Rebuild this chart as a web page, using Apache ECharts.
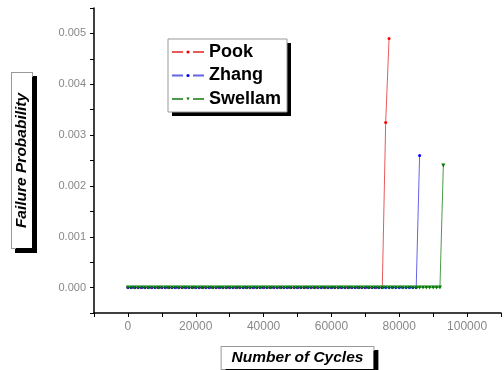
<!doctype html>
<html>
<head>
  <meta charset="utf-8">
  <title>Failure Probability</title>
  <script src="https://cdn.jsdelivr.net/npm/echarts@6/dist/echarts.min.js"></script>
  <style>
    html, body { margin: 0; padding: 0; background: #fff; }
    #main { width: 504px; height: 370px; }
  </style>
</head>
<body>
<div id="main"></div>
<script>
  // cycles sampled every 1000
  var cycles = [
    0, 1000, 2000, 3000, 4000, 5000, 6000, 7000, 8000, 9000,
    10000, 11000, 12000, 13000, 14000, 15000, 16000, 17000, 18000, 19000,
    20000, 21000, 22000, 23000, 24000, 25000, 26000, 27000, 28000, 29000,
    30000, 31000, 32000, 33000, 34000, 35000, 36000, 37000, 38000, 39000,
    40000, 41000, 42000, 43000, 44000, 45000, 46000, 47000, 48000, 49000,
    50000, 51000, 52000, 53000, 54000, 55000, 56000, 57000, 58000, 59000,
    60000, 61000, 62000, 63000, 64000, 65000, 66000, 67000, 68000, 69000,
    70000, 71000, 72000, 73000, 74000, 75000, 76000, 77000, 78000, 79000,
    80000, 81000, 82000, 83000, 84000, 85000, 86000, 87000, 88000, 89000,
    90000, 91000, 92000, 93000
  ];
  var pook = [
    0,0,0,0,0,0,0,0,0,0,0,0,0,0,0,0,0,0,0,0,
    0,0,0,0,0,0,0,0,0,0,0,0,0,0,0,0,0,0,0,0,
    0,0,0,0,0,0,0,0,0,0,0,0,0,0,0,0,0,0,0,0,
    0,0,0,0,0,0,0,0,0,0,0,0,0,0,0,0,
    0.00325, 0.0049
  ];
  var zhang = [
    0,0,0,0,0,0,0,0,0,0,0,0,0,0,0,0,0,0,0,0,
    0,0,0,0,0,0,0,0,0,0,0,0,0,0,0,0,0,0,0,0,
    0,0,0,0,0,0,0,0,0,0,0,0,0,0,0,0,0,0,0,0,
    0,0,0,0,0,0,0,0,0,0,0,0,0,0,0,0,0,0,0,0,
    0,0,0,0,0,0,
    0.0026
  ];
  var swellam = [
    0,0,0,0,0,0,0,0,0,0,0,0,0,0,0,0,0,0,0,0,
    0,0,0,0,0,0,0,0,0,0,0,0,0,0,0,0,0,0,0,0,
    0,0,0,0,0,0,0,0,0,0,0,0,0,0,0,0,0,0,0,0,
    0,0,0,0,0,0,0,0,0,0,0,0,0,0,0,0,0,0,0,0,
    0,0,0,0,0,0,0,0,0,0,0,0,0,
    0.0024
  ];

  function pairs(ys) {
    return ys.map(function (y, i) { return [cycles[i], y]; });
  }

  var boxName = {
    fontFamily: 'Arial, Liberation Sans',
    fontSize: 15.5,
    fontWeight: 'bold',
    fontStyle: 'italic',
    color: '#000',
    backgroundColor: '#fff',
    borderColor: '#999',
    borderWidth: 1,
    shadowColor: '#000',
    shadowOffsetX: 4,
    shadowOffsetY: 4,
    shadowBlur: 0
  };

  var chart = echarts.init(document.getElementById('main'));
  chart.setOption({
    animation: false,
    grid: { left: 94, right: 3, top: 8, bottom: 57, outerBoundsMode: 'none', containLabel: false },
    // legend frame with hard shadow
    graphic: [
      { type: 'rect', z: 0, shape: { x: 172, y: 43, width: 119, height: 73 }, style: { fill: '#000' } },
      { type: 'rect', z: 1, shape: { x: 168, y: 39, width: 119, height: 73 }, style: { fill: '#fff', stroke: '#999', lineWidth: 1 } }
    ],
    legend: {
      z: 5,
      left: 168, top: 40,
      orient: 'vertical',
      padding: 3,
      itemWidth: 32, itemHeight: 4, itemGap: 5.5,
      lineStyle: { type: [11, 10] },
      textStyle: { fontFamily: 'Arial, Liberation Sans', fontSize: 18, fontWeight: 'bold', color: '#000' }
    },
    xAxis: {
      type: 'value',
      min: -10000, max: 110000, interval: 10000,
      name: 'Number of Cycles',
      nameLocation: 'middle',
      nameGap: 34,
      nameTextStyle: Object.assign({ padding: [3, 10, 3, 10] }, boxName),
      splitLine: { show: false },
      axisLine: { onZero: false, lineStyle: { color: '#000', width: 1.5 } },
      axisTick: { length: 4, lineStyle: { color: '#000' } },
      axisLabel: {
        color: '#888', fontSize: 12, fontFamily: 'Arial, Liberation Sans', margin: 8,
        formatter: function (v) {
          return (v >= 0 && v <= 100000 && v % 20000 === 0) ? String(v) : '';
        }
      }
    },
    yAxis: {
      type: 'value',
      min: -0.0005, max: 0.0055, interval: 0.0005,
      name: 'Failure Probability',
      nameLocation: 'middle',
      nameRotate: 90,
      nameGap: 62,
      nameTextStyle: Object.assign({ padding: [2, 20, 2, 20] }, boxName),
      splitLine: { show: false },
      axisLine: { onZero: false, lineStyle: { color: '#000', width: 1.5 } },
      axisTick: { length: 4, lineStyle: { color: '#000' } },
      axisLabel: {
        color: '#888', fontSize: 11, fontFamily: 'Arial, Liberation Sans', margin: 8,
        formatter: function (v) {
          var k = v * 1000;
          return (Math.abs(k - Math.round(k)) < 1e-6 && k > -0.1) ? Math.abs(v).toFixed(3) : '';
        }
      }
    },
    series: [
      {
        name: 'Pook', type: 'line', data: pairs(pook),
        symbol: 'circle', symbolSize: 3,
        lineStyle: { color: '#e85a5a', width: 1 },
        itemStyle: { color: '#ff0000' }
      },
      {
        name: 'Zhang', type: 'line', data: pairs(zhang),
        symbol: 'circle', symbolSize: 3,
        lineStyle: { color: '#6464e6', width: 1 },
        itemStyle: { color: '#0000ff' }
      },
      {
        name: 'Swellam', type: 'line', data: pairs(swellam),
        symbol: 'triangle', symbolRotate: 180, symbolSize: 4,
        lineStyle: { color: '#4a9a4a', width: 1 },
        itemStyle: { color: '#007a00' }
      }
    ]
  });
</script>
</body>
</html>
